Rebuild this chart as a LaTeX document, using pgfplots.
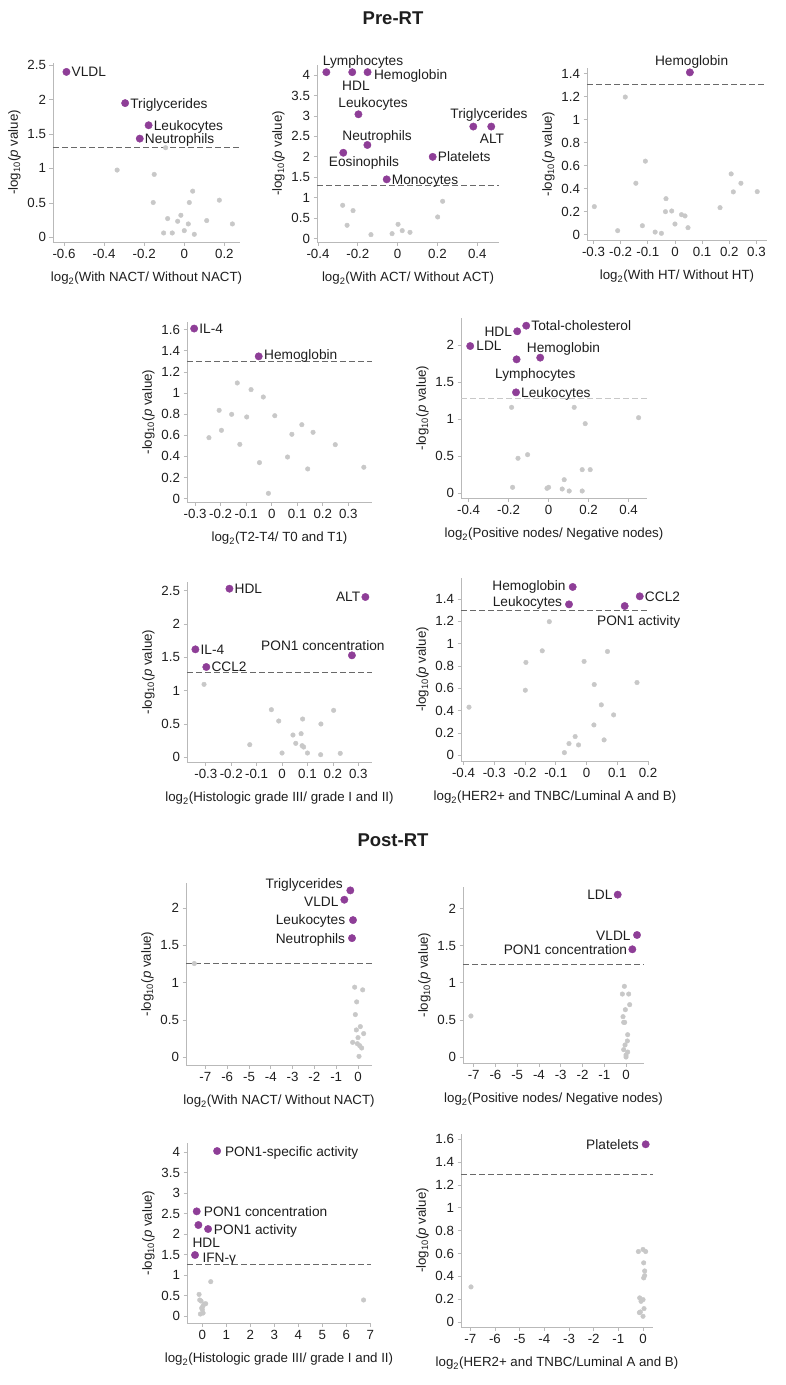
\documentclass[border=0pt]{standalone}
\usepackage{fontspec}
\setmainfont{Liberation Sans}
\usepackage{pgfplots}
\pgfplotsset{compat=1.18}
\definecolor{purp}{RGB}{142,62,151}
\definecolor{ptg}{RGB}{200,200,200}
\definecolor{axc}{RGB}{185,185,185}
\definecolor{dsh}{RGB}{105,105,105}
\definecolor{txc}{RGB}{30,30,30}
\newcommand\fs{\fontsize{13.3}{16}\selectfont}
\newcommand\fl{\fontsize{13.7}{16}\selectfont}
\newcommand\ylab{-log\textsubscript{10}(\textit{p} value)}

\pgfplotsset{
  volc/.style={scale only axis, clip=false, anchor=south west,
    axis x line*=bottom, axis y line*=left,
    axis line style={draw=axc, line width=0.7pt, -},
    major tick style={draw=axc, line width=0.7pt},
    tick align=outside, major tick length=3.5pt,
    tick label style={font=\fs, text=txc},
    label style={font=\fs, text=txc},
    xlabel style={yshift=-7pt},
    /pgf/number format/assume math mode=true,
    ylabel={\ylab},
  },
  gp/.style={only marks, mark=*, mark size=2.3pt, color=ptg},
  pp/.style={only marks, mark=*, mark size=3.7pt, color=purp},
  thr/.style={color=dsh, dash pattern=on 6pt off 3pt, line width=0.9pt},
}
\tikzset{
  lw/.style={anchor=base west, inner sep=0pt, font=\fl, text=txc},
  le/.style={anchor=base east, inner sep=0pt, font=\fl, text=txc},
  lc/.style={anchor=base, inner sep=0pt, font=\fl, text=txc},
  lr/.style={lw, xshift=5pt, yshift=-4.9pt},
  ll/.style={le, xshift=-5pt, yshift=-4.9pt},
}

\begin{document}
\begin{tikzpicture}
\useasboundingbox (0,0) rectangle (786pt,-1385pt);

\node[font=\bfseries\fontsize{18.5}{22}\selectfont, text=txc] at (393pt,-18pt) {Pre-RT};
\node[font=\bfseries\fontsize{18.5}{22}\selectfont, text=txc] at (393pt,-840pt) {Post-RT};

% ---- Pre-RT: NACT
\begin{axis}[volc, at={(53pt,-242pt)}, width=187pt, height=179pt,
  xmin=-0.655, xmax=0.278, ymin=-0.068, ymax=2.529,
  xtick={-0.6,-0.4,-0.2,0,0.2}, ytick={0,0.5,1,1.5,2,2.5},
  xlabel={log\textsubscript{2}(With NACT/ Without NACT)}]
\addplot[thr] coordinates {(-0.655,1.30) (0.278,1.30)};
\addplot[gp] coordinates {(-0.093,1.30) (-0.335,0.976) (-0.15,0.913) (-0.155,0.505)
 (0.042,0.670) (0.025,0.505) (0.175,0.539) (-0.083,0.272) (-0.017,0.320) (-0.033,0.233)
 (0.02,0.194) (0.112,0.243) (0.24,0.194) (-0.103,0.063) (-0.06,0.063) (0,0.097) (0.05,0.044)};
\addplot[pp] coordinates {(-0.588,2.40) (-0.295,1.947) (-0.178,1.626) (-0.222,1.432)};
\node[lr] at (axis cs:-0.588,2.40) {VLDL};
\node[lr] at (axis cs:-0.295,1.947) {Triglycerides};
\node[lr] at (axis cs:-0.178,1.626) {Leukocytes};
\node[lr] at (axis cs:-0.222,1.432) {Neutrophils};
\end{axis}

% ---- Pre-RT: ACT
\begin{axis}[volc, at={(317pt,-242pt)}, width=182pt, height=177pt,
  xmin=-0.405, xmax=0.509, ymin=-0.082, ymax=4.245,
  xtick={-0.4,-0.2,0,0.2,0.4}, ytick={0,0.5,1,1.5,2,2.5,3,3.5,4},
  xlabel={log\textsubscript{2}(With ACT/ Without ACT)}]
\addplot[thr] coordinates {(-0.405,1.29) (0.509,1.29)};
\addplot[gp] coordinates {(-0.276,0.816) (-0.224,0.686) (-0.254,0.327) (-0.134,0.098)
 (-0.028,0.122) (0.002,0.351) (0.023,0.196) (0.062,0.155) (0.201,0.53) (0.226,0.914)};
\addplot[pp] coordinates {(-0.358,4.07) (-0.228,4.07) (-0.151,4.07) (-0.197,3.04)
 (-0.152,2.29) (-0.273,2.10) (-0.055,1.45) (0.176,2.0) (0.38,2.74) (0.47,2.74)};
\node[lc, xshift=36.7pt, yshift=6.9pt] at (axis cs:-0.358,4.07) {Lymphocytes};
\node[lc, xshift=3.7pt, yshift=-18.5pt] at (axis cs:-0.228,4.07) {HDL};
\node[lw, xshift=6.3pt, yshift=-7.5pt] at (axis cs:-0.151,4.07) {Hemoglobin};
\node[lc, xshift=14.7pt, yshift=6.9pt] at (axis cs:-0.197,3.04) {Leukocytes};
\node[lc, xshift=9.7pt, yshift=4.2pt] at (axis cs:-0.152,2.29) {Neutrophils};
\node[lc, xshift=20.7pt, yshift=-13.5pt] at (axis cs:-0.273,2.10) {Eosinophils};
\node[lr] at (axis cs:-0.055,1.45) {Monocytes};
\node[lr] at (axis cs:0.176,2.0) {Platelets};
\node[lc, xshift=15.7pt, yshift=8.2pt] at (axis cs:0.38,2.74) {Triglycerides};
\node[lc, xshift=0.7pt, yshift=-16.8pt] at (axis cs:0.47,2.74) {ALT};
\end{axis}

% ---- Pre-RT: HT
\begin{axis}[volc, at={(587pt,-240pt)}, width=180pt, height=172pt,
  xmin=-0.324, xmax=0.339, ymin=-0.046, ymax=1.448,
  xtick={-0.3,-0.2,-0.1,0,0.1,0.2,0.3}, ytick={0,0.2,0.4,0.6,0.8,1,1.2,1.4},
  xlabel={log\textsubscript{2}(With HT/ Without HT)}]
\addplot[thr] coordinates {(-0.324,1.306) (0.339,1.306)};
\addplot[gp] coordinates {(-0.297,0.244) (-0.211,0.035) (-0.183,1.196) (-0.109,0.639)
 (-0.144,0.447) (-0.12,0.078) (-0.073,0.023) (-0.05,0.012) (-0.033,0.313) (-0.035,0.2)
 (-0.012,0.206) (0,0.093) (0.024,0.174) (0.037,0.163) (0.048,0.061) (0.166,0.235)
 (0.207,0.528) (0.215,0.372) (0.243,0.447) (0.303,0.374)};
\addplot[pp] coordinates {(0.055,1.41)};
\node[lc, xshift=1.7pt, yshift=7.2pt] at (axis cs:0.055,1.41) {Hemoglobin};
\end{axis}

% ---- Pre-RT: T2-T4
\begin{axis}[volc, at={(187pt,-502pt)}, width=185pt, height=180pt,
  xmin=-0.332, xmax=0.393, ymin=-0.032, ymax=1.672,
  xtick={-0.3,-0.2,-0.1,0,0.1,0.2,0.3}, ytick={0,0.2,0.4,0.6,0.8,1,1.2,1.4,1.6},
  xlabel={log\textsubscript{2}(T2-T4/ T0 and T1)}]
\addplot[thr] coordinates {(-0.332,1.303) (0.393,1.303)};
\addplot[gp] coordinates {(-0.246,0.577) (-0.206,0.836) (-0.197,0.647) (-0.157,0.798)
 (-0.135,1.095) (-0.098,0.773) (-0.125,0.514) (-0.081,1.032) (-0.033,0.962) (-0.048,0.341)
 (-0.013,0.05) (0.012,0.785) (0.062,0.394) (0.079,0.609) (0.118,0.7) (0.141,0.281)
 (0.162,0.628) (0.249,0.511) (0.361,0.297)};
\addplot[pp] coordinates {(-0.304,1.61) (-0.051,1.347)};
\node[lr] at (axis cs:-0.304,1.61) {IL-4};
\node[lw, xshift=5.3pt, yshift=-3.1pt] at (axis cs:-0.051,1.347) {Hemoglobin};
\end{axis}

% ---- Pre-RT: nodes
\begin{axis}[volc, at={(461pt,-498pt)}, width=186pt, height=180pt,
  xmin=-0.438, xmax=0.492, ymin=-0.068, ymax=2.370,
  xtick={-0.4,-0.2,0,0.2,0.4}, ytick={0,0.5,1,1.5,2},
  xlabel={log\textsubscript{2}(Positive nodes/ Negative nodes)}]
\addplot[thr, color=ptg] coordinates {(-0.438,1.278) (0.492,1.278)};
\addplot[gp] coordinates {(-0.185,1.16) (0.128,1.16) (0.183,0.939) (0.45,1.02)
 (-0.153,0.47) (-0.105,0.519) (-0.18,0.077) (-0.008,0.063) (0,0.077) (0.068,0.054)
 (0.078,0.18) (0.103,0.027) (0.168,0.316) (0.208,0.316) (0.168,0.027)};
\addplot[pp] coordinates {(-0.112,2.266) (-0.157,2.19) (-0.392,1.99) (-0.042,1.833)
 (-0.16,1.81) (-0.163,1.363)};
\node[lr] at (axis cs:-0.112,2.266) {Total-cholesterol};
\node[ll] at (axis cs:-0.157,2.19) {HDL};
\node[lw, xshift=6pt, yshift=-4.9pt] at (axis cs:-0.392,1.99) {LDL};
\node[lc, xshift=23.3pt, yshift=5.5pt] at (axis cs:-0.042,1.833) {Hemoglobin};
\node[lc, xshift=18.7pt, yshift=-19.1pt] at (axis cs:-0.16,1.81) {Lymphocytes};
\node[lr] at (axis cs:-0.163,1.363) {Leukocytes};
\end{axis}

% ---- Pre-RT: histologic grade
\begin{axis}[volc, at={(187pt,-762pt)}, width=185pt, height=180pt,
  xmin=-0.374, xmax=0.354, ymin=-0.07, ymax=2.63,
  xtick={-0.3,-0.2,-0.1,0,0.1,0.2,0.3}, ytick={0,0.5,1,1.5,2,2.5},
  xlabel={log\textsubscript{2}(Histologic grade III/ grade I and II)}]
\addplot[thr] coordinates {(-0.374,1.28) (0.354,1.28)};
\addplot[gp] coordinates {(-0.307,1.095) (-0.127,0.19) (-0.042,0.715) (-0.013,0.545)
 (0,0.065) (0.043,0.335) (0.054,0.21) (0.075,0.355) (0.081,0.575) (0.079,0.175)
 (0.085,0.155) (0.1,0.065) (0.153,0.5) (0.152,0.04) (0.203,0.705) (0.229,0.06)};
\addplot[pp] coordinates {(-0.207,2.53) (0.328,2.405) (-0.341,1.62) (-0.298,1.355) (0.275,1.53)};
\node[lr] at (axis cs:-0.207,2.53) {HDL};
\node[ll] at (axis cs:0.328,2.405) {ALT};
\node[lr] at (axis cs:-0.341,1.62) {IL-4};
\node[lr] at (axis cs:-0.298,1.355) {CCL2};
\node[lc, xshift=-29pt, yshift=5.2pt] at (axis cs:0.275,1.53) {PON1 concentration};
\end{axis}

% ---- Pre-RT: subtype
\begin{axis}[volc, at={(461pt,-761pt)}, width=188pt, height=183pt,
  xmin=-0.408, xmax=0.203, ymin=-0.051, ymax=1.588,
  xtick={-0.4,-0.3,-0.2,-0.1,0,0.1,0.2}, ytick={0,0.2,0.4,0.6,0.8,1,1.2,1.4},
  xlabel={log\textsubscript{2}(HER2+ and TNBC/Luminal A and B)}]
\addplot[thr] coordinates {(-0.408,1.301) (0.203,1.301)};
\addplot[gp] coordinates {(-0.121,1.197) (-0.144,0.936) (-0.197,0.832) (-0.199,0.583)
 (-0.008,0.841) (0.068,0.930) (-0.382,0.431) (0.025,0.634) (0.164,0.652) (0.048,0.452)
 (0.088,0.362) (0.024,0.272) (-0.037,0.168) (-0.057,0.105) (-0.026,0.093) (0.057,0.138)
 (-0.072,0.024)};
\addplot[pp] coordinates {(-0.045,1.508) (-0.057,1.352) (0.124,1.337) (0.173,1.424)};
\node[le, xshift=-7pt, yshift=-3.5pt] at (axis cs:-0.045,1.508) {Hemoglobin};
\node[le, xshift=-6.7pt, yshift=-2.5pt] at (axis cs:-0.057,1.352) {Leukocytes};
\node[lr] at (axis cs:0.173,1.424) {CCL2};
\node[lw, xshift=-27.7pt, yshift=-19.5pt] at (axis cs:0.124,1.337) {PON1 activity};
\end{axis}

% ---- Post-RT: NACT
\begin{axis}[volc, at={(186pt,-1065pt)}, width=186pt, height=182pt,
  xmin=-7.89, xmax=0.642, ymin=-0.103, ymax=2.336,
  xtick={-7,-6,-5,-4,-3,-2,-1,0}, ytick={0,0.5,1,1.5,2},
  xlabel={log\textsubscript{2}(With NACT/ Without NACT)}]
\addplot[thr] coordinates {(-7.89,1.257) (0.642,1.257)};
\addplot[gp] coordinates {(-7.51,1.257) (-0.153,0.94) (0.214,0.904) (-0.061,0.743)
 (-0.122,0.573) (0.107,0.412) (-0.076,0.367) (0.26,0.318) (0,0.264) (-0.245,0.201)
 (-0.031,0.183) (0.076,0.157) (0.168,0.125) (0.046,0.013)};
\addplot[pp] coordinates {(-0.352,2.237) (-0.627,2.112) (-0.229,1.839) (-0.275,1.597)};
\node[le, xshift=-7.3pt, yshift=1.5pt] at (axis cs:-0.352,2.237) {Triglycerides};
\node[le, xshift=-5.7pt, yshift=-6.5pt] at (axis cs:-0.627,2.112) {VLDL};
\node[le, xshift=-7.7pt, yshift=-4.2pt] at (axis cs:-0.229,1.839) {Leukocytes};
\node[le, xshift=-6.7pt, yshift=-4.9pt] at (axis cs:-0.275,1.597) {Neutrophils};
\end{axis}

% ---- Post-RT: nodes
\begin{axis}[volc, at={(463pt,-1063pt)}, width=181pt, height=176pt,
  xmin=-7.49, xmax=0.826, ymin=-0.081, ymax=2.292,
  xtick={-7,-6,-5,-4,-3,-2,-1,0}, ytick={0,0.5,1,1.5,2},
  xlabel={log\textsubscript{2}(Positive nodes/ Negative nodes)}]
\addplot[thr] coordinates {(-7.49,1.254) (0.826,1.254)};
\addplot[gp] coordinates {(-7.125,0.553) (-0.076,0.953) (-0.168,0.849) (0.122,0.849)
 (0.168,0.706) (-0.031,0.638) (-0.138,0.544) (-0.107,0.467) (-0.061,0.467) (0.076,0.301)
 (0.061,0.216) (-0.046,0.162) (-0.107,0.099) (0.076,0.067) (0,0.027) (0,0.0)};
\addplot[pp] coordinates {(-0.382,2.189) (0.505,1.645) (0.29,1.452)};
\node[ll] at (axis cs:-0.382,2.189) {LDL};
\node[le, xshift=-6.3pt, yshift=-5.5pt] at (axis cs:0.505,1.645) {VLDL};
\node[ll] at (axis cs:0.29,1.452) {PON1 concentration};
\end{axis}

% ---- Post-RT: histologic grade
\begin{axis}[volc, at={(187pt,-1323pt)}, width=184pt, height=180pt,
  xmin=-0.642, xmax=7.03, ymin=-0.162, ymax=4.219,
  xtick={0,1,2,3,4,5,6,7}, ytick={0,0.5,1,1.5,2,2.5,3,3.5,4},
  xlabel={log\textsubscript{2}(Histologic grade III/ grade I and II)}]
\addplot[thr] coordinates {(-0.642,1.26) (7.03,1.26)};
\addplot[gp] coordinates {(0.349,0.844) (-0.139,0.535) (-0.112,0.398) (-0.056,0.373)
 (0.084,0.300) (0.139,0.308) (0,0.162) (0.028,0.081) (-0.084,0.057) (0.02,0.25)
 (-0.03,0.2) (6.72,0.398)};
\addplot[pp] coordinates {(0.614,4.024) (-0.237,2.556) (-0.167,2.223) (0.237,2.126) (-0.307,1.493)};
\node[lw, xshift=7.7pt, yshift=-5.8pt] at (axis cs:0.614,4.024) {PON1-specific activity};
\node[lw, xshift=7pt, yshift=-5.5pt] at (axis cs:-0.237,2.556) {PON1 concentration};
\node[lw, xshift=5.7pt, yshift=-5.5pt] at (axis cs:0.237,2.126) {PON1 activity};
\node[lw, xshift=-6pt, yshift=-22.1pt] at (axis cs:-0.167,2.223) {HDL};
\node[lw, xshift=7.3pt, yshift=-7.5pt] at (axis cs:-0.307,1.493) {IFN-γ};
\end{axis}

% ---- Post-RT: subtype
\begin{axis}[volc, at={(461pt,-1327pt)}, width=192pt, height=193pt,
  xmin=-7.375, xmax=0.404, ymin=-0.044, ymax=1.646,
  xtick={-7,-6,-5,-4,-3,-2,-1,0}, ytick={0,0.2,0.4,0.6,0.8,1,1.2,1.4,1.6},
  xlabel={log\textsubscript{2}(HER2+ and TNBC/Luminal A and B)}]
\addplot[thr] coordinates {(-7.375,1.295) (0.404,1.295)};
\addplot[gp] coordinates {(-6.97,0.307) (-0.188,0.617) (0,0.635) (0.108,0.617)
 (0.027,0.518) (0.067,0.447) (0.067,0.406) (0.027,0.386) (-0.135,0.211) (0,0.196)
 (-0.081,0.181) (-0.108,0.088) (0.04,0.117) (-0.148,0.082) (0,0.05)};
\addplot[pp] coordinates {(0.108,1.556)};
\node[le, xshift=-6.7pt, yshift=-4.9pt] at (axis cs:0.108,1.556) {Platelets};
\end{axis}
\end{tikzpicture}
\end{document}
